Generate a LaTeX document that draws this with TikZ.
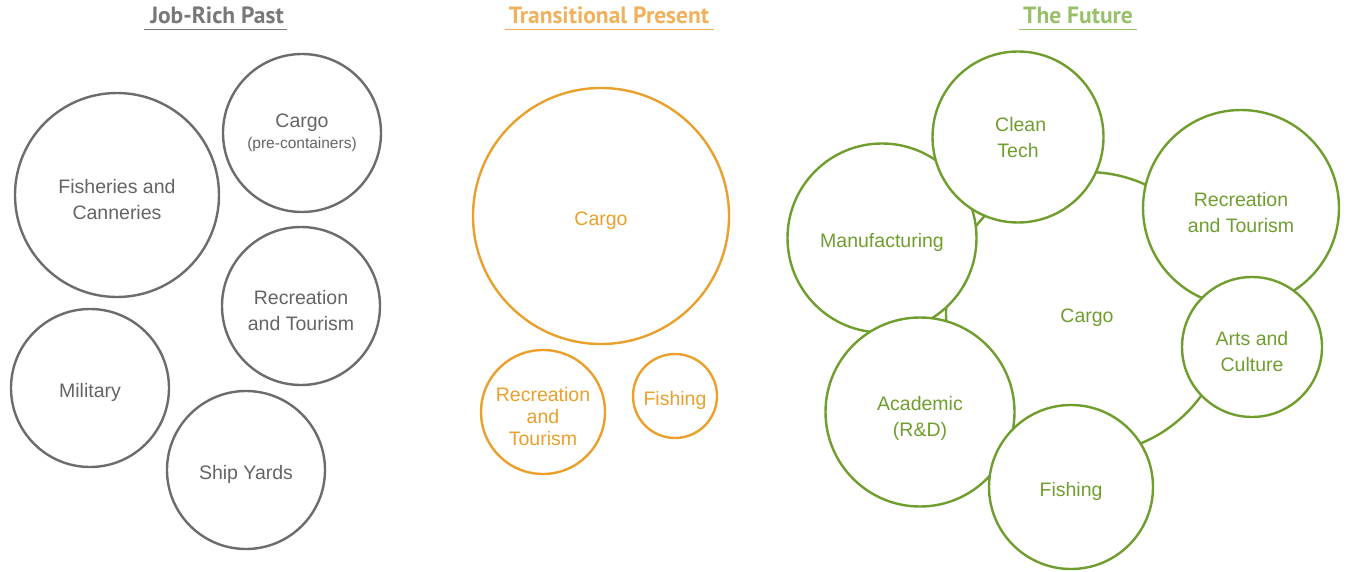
\documentclass[tikz,border=0pt]{standalone}
\usepackage{fontspec}
\setmainfont{Liberation Sans}
\newfontfamily\ttlfont{PT Sans}
\definecolor{pastline}{RGB}{108,108,110}
\definecolor{pasttext}{RGB}{100,100,102}
\definecolor{pastttl}{RGB}{120,120,122}
\definecolor{nowline}{RGB}{234,160,44}
\definecolor{nowttl}{RGB}{240,176,92}
\definecolor{futline}{RGB}{112,158,46}
\definecolor{futttl}{RGB}{152,192,104}
\newcommand\topgap[1][27pt]{\rule{0pt}{#1}}
\tikzset{
        bubble/.style = {circle, align=center, inner sep=0pt, line width=2.4pt,
            fill=white, font=\fontsize{19.5}{26}\selectfont,
            execute at begin node={\rule{0pt}{23.5pt}},
            execute at end node={\rule[-4.2pt]{0pt}{0pt}}},
        past_n/.style = {bubble, draw=pastline, text=pasttext},
        now_n/.style = {bubble, draw=nowline, text=nowline},
        fut_n/.style = {bubble, draw=futline, text=futline},
        ttl/.style = {anchor=base, inner sep=0pt,
            font=\ttlfont\bfseries\fontsize{23.5}{26}\selectfont},
        uline/.style = {line width=1.3pt}
    }
\begin{document}
\begin{tikzpicture}[x=1pt,y=-1pt]
\useasboundingbox (0,0) rectangle (1348,572);
% titles
\node [ttl, text=pastttl] (ttl_past) at (217,24) {Job-Rich Past};
\node [ttl, text=nowttl] (ttl_now) at (609,24) {Transitional Present};
\node [ttl, text=futttl] (ttl_fut) at (1078,24) {The Future};
\draw [uline, pastttl] ([xshift=-6pt,yshift=-5.5pt]ttl_past.base west) -- ([xshift=3pt,yshift=-5.5pt]ttl_past.base east);
\draw [uline, nowttl] ([xshift=-4pt,yshift=-5.5pt]ttl_now.base west) -- ([xshift=5pt,yshift=-5.5pt]ttl_now.base east);
\draw [uline, futttl] ([xshift=-4pt,yshift=-5.5pt]ttl_fut.base west) -- ([xshift=4pt,yshift=-5.5pt]ttl_fut.base east);
% job-rich past
\node [past_n, minimum size=204pt] (p_fish) at (117,195) {\topgap Fisheries and\\Canneries};
\node [past_n, minimum size=158pt, execute at begin node={}, execute at end node={}] (p_cargo) at (302,133)
    {Cargo\\[-5pt]{\fontsize{15.5}{18}\selectfont(pre-containers)}};
\node [past_n, minimum size=158pt] (p_rec) at (301,306) {\topgap Recreation\\and Tourism};
\node [past_n, minimum size=158pt] (p_mil) at (90,388) {Military};
\node [past_n, minimum size=158pt] (p_ship) at (246,470) {Ship Yards};
% transitional present
\node [now_n, minimum size=256pt] (n_cargo) at (601,216) {Cargo};
\node [now_n, minimum size=124pt, font=\fontsize{19.5}{22}\selectfont] (n_rec) at (543,412) {\topgap Recreation\\and\\Tourism};
\node [now_n, minimum size=84pt] (n_fish) at (675,396) {Fishing};
% the future
\node [fut_n, minimum size=282pt] (f_cargo) at (1087,313) {Cargo};
\node [fut_n, minimum size=189pt] (f_manu) at (882,238) {Manufacturing};
\node [fut_n, minimum size=171pt] (f_clean) at (1018,137) {\topgap[20pt] Clean\\Tech};
\node [fut_n, minimum size=196pt] (f_rec) at (1241,208) {\topgap Recreation\\and Tourism};
\node [fut_n, minimum size=140pt] (f_arts) at (1252,347) {\topgap Arts and\\Culture};
\node [fut_n, minimum size=189pt] (f_acad) at (920,412) {\topgap Academic\\(R\&D)};
\node [fut_n, minimum size=164pt] (f_fish) at (1071,487) {Fishing};
\end{tikzpicture}
\end{document}
